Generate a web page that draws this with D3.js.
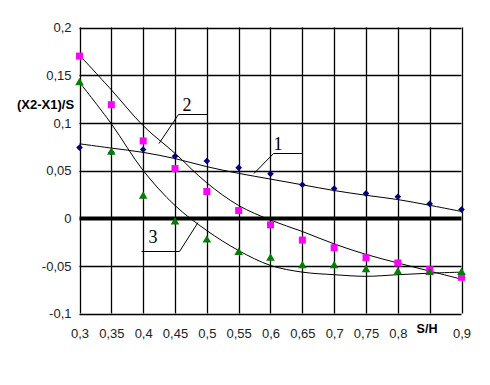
<!DOCTYPE html>
<html>
<head>
<meta charset="utf-8">
<script src="https://cdn.jsdelivr.net/npm/d3@7"></script>
<style>
  body { margin: 0; background: #fff; }
  svg { display: block; }
  .tick text { font-family: "Liberation Sans", Arial, sans-serif; font-size: 13px; fill: #222; }
</style>
</head>
<body>
<svg id="chart" width="490" height="385"></svg>
<script>
var sh = [0.3, 0.35, 0.4, 0.45, 0.5, 0.55, 0.6, 0.65, 0.7, 0.75, 0.8, 0.85, 0.9];
var series1 = [0.074, 0.069, 0.072, 0.065, 0.060, 0.053, 0.0465, 0.035, 0.031, 0.026, 0.0225, 0.015, 0.009];
var series2 = [0.170, 0.119, 0.081, 0.052, 0.028, 0.008, -0.007, -0.023, -0.031, -0.0415, -0.047, -0.054, -0.062];
var series3 = [0.142, 0.069, 0.023, -0.004, -0.023, -0.036, -0.042, -0.050, -0.050, -0.054, -0.0565, -0.057, -0.057];
// curves as drawn on the chart (read at each S/H step)
var curve1 = [0.078, 0.0735, 0.069, 0.0625, 0.054, 0.047, 0.041, 0.035, 0.029, 0.024, 0.0195, 0.0135, 0.007];
var curve2 = [0.171, 0.1346, 0.097, 0.068, 0.037, 0.0133, -0.002, -0.014, -0.027, -0.038, -0.047, -0.0555, -0.064];
var curve3 = [0.1425, 0.099, 0.05, 0.0133, -0.013, -0.034, -0.0496, -0.0566, -0.0593, -0.061, -0.0593, -0.0577, -0.0566];
var yTicks = [-0.1, -0.05, 0, 0.05, 0.1, 0.15, 0.2];
var xTickLabels = ["0,3", "0,35", "0,4", "0,45", "0,5", "0,55", "0,6", "0,65", "0,7", "0,75", "0,8", "", "0,9"];
var labelText = ["1", "2", "3"];

(function fig() {
  var svg = d3.select("#chart"),
      left = 79.5, right = 461.5, top = 27.5, bottom = 313.5;

  var x = d3.scaleLinear().domain([0.3, 0.9]).range([left, right]);
  var y = d3.scaleLinear().domain([-0.1, 0.2]).range([bottom, top]);

  var comma = function(v) { return String(+v.toFixed(2)).replace(".", ","); };

  // grid
  var g = svg.append("g");
  g.selectAll(".vg").data(sh).enter().append("line")
      .attr("x1", function(d) { return Math.round(x(d)) + 0.5; }).attr("x2", function(d) { return Math.round(x(d)) + 0.5; })
      .attr("y1", top).attr("y2", bottom)
      .attr("stroke", "#000").attr("stroke-width", 1.3);
  g.selectAll(".hg").data(yTicks).enter().append("line")
      .attr("x1", left).attr("x2", right)
      .attr("y1", function(d) { return Math.round(y(d)) + 0.5; }).attr("y2", function(d) { return Math.round(y(d)) + 0.5; })
      .attr("stroke", "#000").attr("stroke-width", function(d) { return d === 0 ? 4 : 1.3; });

  // axes (labels only)
  svg.append("g")
      .attr("transform", "translate(" + left + ",0)")
      .call(d3.axisLeft(y).tickValues(yTicks).tickSize(0).tickPadding(8).tickFormat(comma))
      .call(function(a) { a.select(".domain").remove(); });
  svg.append("g")
      .attr("transform", "translate(0," + bottom + ")")
      .call(d3.axisBottom(x).tickValues(sh).tickSize(0).tickPadding(15)
        .tickFormat(function(d, i) { return xTickLabels[i]; }))
      .call(function(a) { a.select(".domain").remove(); });

  svg.append("text").attr("x", 17).attr("y", 109).text("(X2-X1)/S")
      .style("font-family", "Liberation Sans, Arial, sans-serif").style("font-size", "13px").style("font-weight", "bold");
  svg.append("text").attr("x", 427).attr("y", 333).attr("text-anchor", "middle").text("S/H")
      .style("font-family", "Liberation Sans, Arial, sans-serif").style("font-size", "12.5px").style("font-weight", "bold");

  // curves
  var line = d3.line()
      .x(function(d, i) { return x(sh[i]); })
      .y(function(d) { return y(d); })
      .curve(d3.curveCatmullRom.alpha(0.5));
  [curve1, curve2, curve3].forEach(function(c) {
    svg.append("path").attr("d", line(c))
        .attr("fill", "none").attr("stroke", "#000").attr("stroke-width", 1);
  });

  // markers
  var sym = [
    {data: series1, type: d3.symbolSquare, size: 22, rot: 45, color: "#000080"},
    {data: series2, type: d3.symbolSquare, size: 49, rot: 0, color: "#ff00ff"},
    {data: series3, type: d3.symbolTriangle, size: 32, rot: 0, color: "#008000"}
  ];
  sym.forEach(function(s) {
    svg.append("g").selectAll("path").data(s.data).enter().append("path")
        .attr("d", d3.symbol().type(s.type).size(s.size))
        .attr("transform", function(d, i) { return "translate(" + x(sh[i]) + "," + y(d) + ") rotate(" + s.rot + ")"; })
        .attr("fill", s.color);
  });

  // callout labels
  var callouts = [
    {pt: [254, 173.5], knee: [273.5, 153.5], end: [302.5, 153.5], tx: 278, ty: 150},
    {pt: [159, 143.5], knee: [178.5, 114.5], end: [208, 114.5], tx: 187, ty: 111},
    {pt: [198, 222.5], knee: [179.5, 251.5], end: [141.5, 251.5], tx: 153, ty: 243}
  ];
  callouts.forEach(function(c, i) {
    svg.append("polyline").attr("points", [c.pt, c.knee, c.end].join(" "))
        .attr("fill", "none").attr("stroke", "#000").attr("stroke-width", 1);
    svg.append("text").attr("x", c.tx).attr("y", c.ty).attr("text-anchor", "middle").text(labelText[i])
        .style("font-family", "Liberation Serif, Times New Roman, serif").style("font-size", "18px");
  });
})();
</script>
</body>
</html>
